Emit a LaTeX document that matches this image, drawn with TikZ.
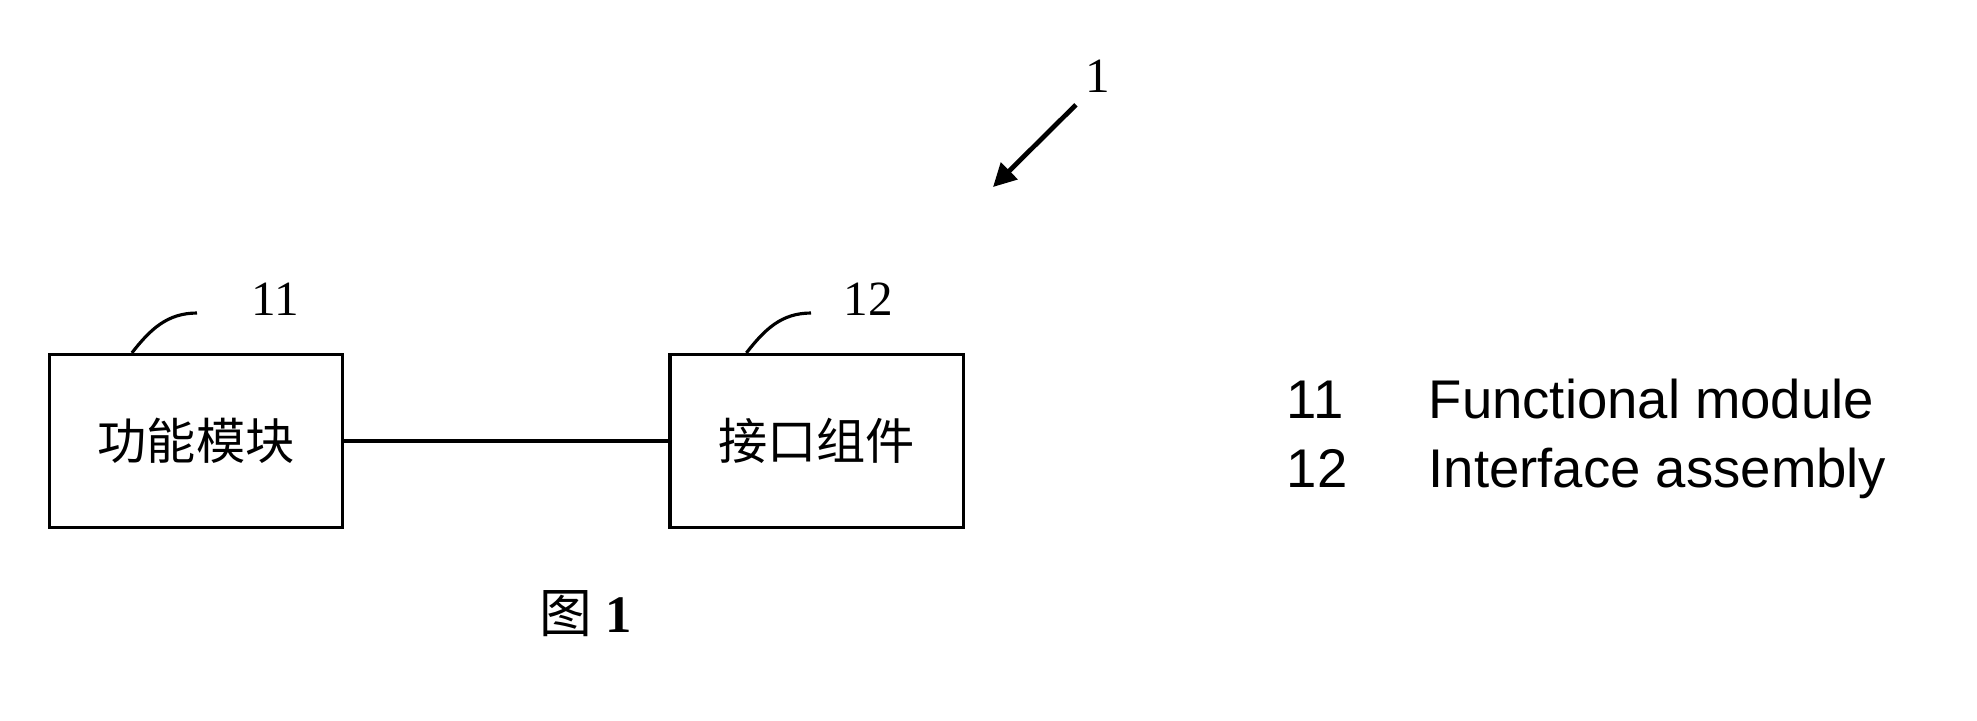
\documentclass[tikz,border=0pt]{standalone}
\usepackage{fontspec}
\setmainfont{Liberation Serif}
\newfontfamily\cjk{Noto Sans CJK SC}
\newfontfamily\legendfont{Liberation Sans}
\usetikzlibrary{arrows.meta,positioning}
\tikzset{
  module/.style={
    draw,
    line width=0.9pt,
    minimum width=2.93cm,
    minimum height=1.73cm,
    inner sep=0pt,
    align=center,
    font=\cjk\fontsize{14}{14}\selectfont
  },
  refnum/.style={
    anchor=base,
    inner sep=2pt,
    font=\fontsize{14}{14}\selectfont
  },
  legend/.style={
    anchor=base west,
    inner sep=0pt,
    font=\legendfont\fontsize{15.5}{15.5}\selectfont
  },
  leader/.style={line width=0.9pt},
  link/.style={line width=0.9pt},
  arrow/.style={-{Triangle[length=2.3mm,width=2.3mm]}, line width=1.35pt}
}

\begin{document}
\begin{tikzpicture}[x=0.01cm, y=-0.01cm]
  \useasboundingbox (0,0) rectangle (1977,720);

  \node[module] (fm) at (196,441) {功能模块};
  \node[module, right=3.24cm of fm] (ia) {接口组件};
  \draw[link] (fm) -- (ia);

  \node[refnum] (fmnum) at (275,315) {11};
  \node[refnum] (ianum) at (868,315) {12};
  \coordinate (fmlead) at (197,313);
  \coordinate (ialead) at (811,313);
  \draw[leader] ([xshift=0.84cm]fm.north west) to[out=52,in=180] (fmlead);
  \draw[leader] ([xshift=0.78cm]ia.north west) to[out=52,in=180] (ialead);

  \node[refnum] (sysnum) at (1098,92) {1};
  \coordinate (systip) at (993,187);
  \draw[arrow] ([xshift=-0.02cm,yshift=-0.05cm]sysnum.south west) -- (systip);

  \node[legend] (key11) at (1286,418) {11};
  \node[legend] (txt11) at (1428,418) {Functional module};
  \node[legend] (key12) at (1286,487) {12};
  \node[legend] (txt12) at (1428,487) {Interface assembly};

  \node[anchor=base, font=\fontsize{15}{15}\selectfont] (caption) at (586,632) {{\cjk 图} \textbf{1}};
\end{tikzpicture}
\end{document}
